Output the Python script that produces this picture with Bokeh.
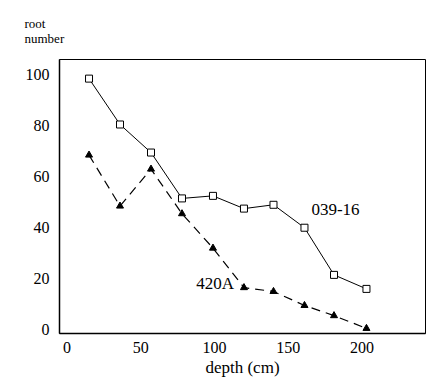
from bokeh.plotting import figure
from bokeh.models import Range1d, FixedTicker, Label, Title
from bokeh.embed import file_html
from bokeh.resources import INLINE

# ---- data ----
depth = [15, 36, 57, 78, 99, 120, 140, 161, 181, 203]
roots_039_16 = [98.5, 80.5, 69.5, 51.5, 52.5, 47.5, 49, 40, 21.5, 16]
roots_420A = [68.5, 48.5, 63, 45.5, 32, 16.5, 15, 9.5, 5.5, 0.5]
x_ticks = [0, 50, 100, 150, 200]
y_ticks = [0, 20, 40, 60, 80, 100]
series_names = ["039-16", "420A"]
y_title = "root\nnumber"
x_title = "depth (cm)"

FONT = "serif"

p = figure(width=434, height=381, output_backend="svg", toolbar_location=None,
           x_range=Range1d(-5, 243), y_range=Range1d(-1.5, 106),
           min_border_left=59, min_border_right=9, min_border_top=58,
           min_border_bottom=48)

p.xgrid.visible = False
p.ygrid.visible = False
p.outline_line_color = "black"
p.outline_line_width = 1
p.background_fill_color = "white"
p.border_fill_color = "white"

for ax in (p.xaxis, p.yaxis):
    ax.axis_line_color = "black"
    ax.axis_line_width = 1.5
    ax.major_tick_in = 0
    ax.major_tick_out = 0
    ax.minor_tick_in = 0
    ax.minor_tick_out = 0
    ax.major_label_text_font = FONT
    ax.major_label_text_font_size = "16px"
    ax.major_label_text_color = "black"

p.xaxis.ticker = FixedTicker(ticks=x_ticks)
p.yaxis.ticker = FixedTicker(ticks=y_ticks)
p.xaxis.major_label_standoff = 8
p.yaxis.major_label_standoff = 10

p.xaxis.axis_label = x_title
p.xaxis.axis_label_text_font = FONT
p.xaxis.axis_label_text_font_size = "17px"
p.xaxis.axis_label_text_font_style = "normal"
p.xaxis.axis_label_text_color = "black"
p.xaxis.axis_label_standoff = 2

# y-axis title as a two-line title above the frame, shifted left
t = Title(text=y_title, align="left", offset=-35, standoff=28,
          text_font=FONT, text_font_size="13px", text_font_style="normal",
          text_color="black", text_line_height=0.95)
p.add_layout(t, "above")

# series 039-16: solid line, open squares
p.line(depth, roots_039_16, line_color="black", line_width=1)
p.scatter(depth, roots_039_16, marker="square", size=7, fill_color="white",
          line_color="black", line_width=1)

# series 420A: dashed line, filled triangles
p.line(depth, roots_420A, line_color="black", line_width=1.2, line_dash="9 6")
p.scatter(depth, roots_420A, marker="triangle", size=7, fill_color="black",
          line_color="black")

# series labels
p.add_layout(Label(x=182, y=47, text=series_names[0], text_font=FONT,
                   text_font_size="17px", text_align="center",
                   text_baseline="middle", text_color="black"))
p.add_layout(Label(x=100.5, y=18, text=series_names[1], text_font=FONT,
                   text_font_size="17px", text_align="center",
                   text_baseline="middle", text_color="black"))

open("out.html", "w").write(file_html(p, INLINE))
